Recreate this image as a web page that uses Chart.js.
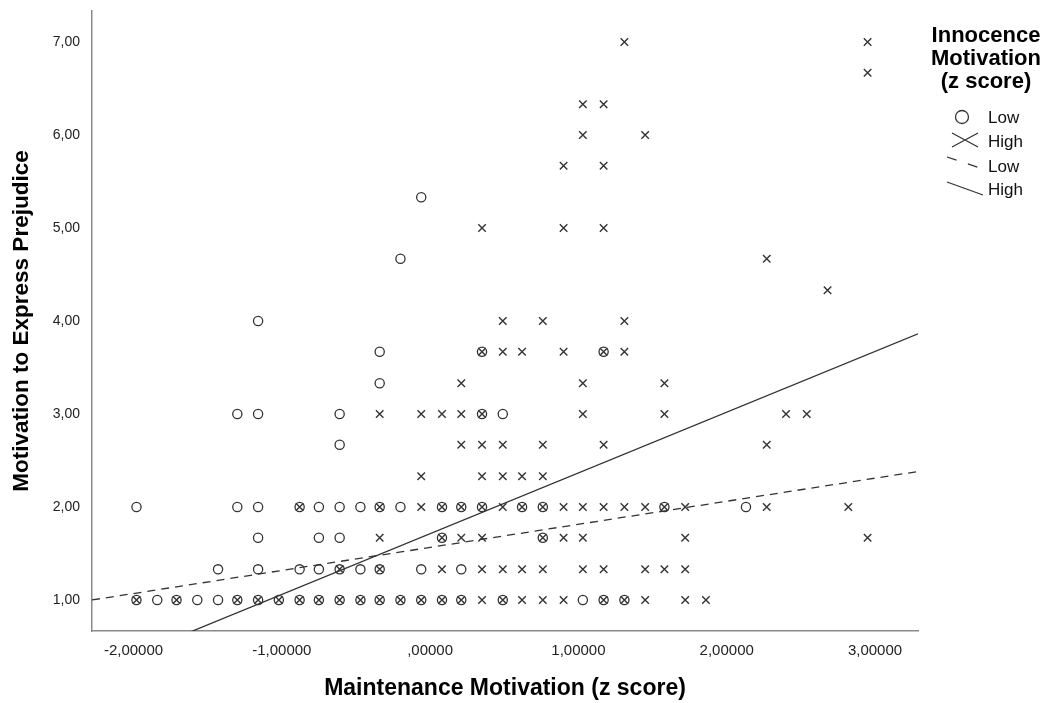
<!DOCTYPE html>
<html>
<head>
<meta charset="utf-8">
<script src="https://cdn.jsdelivr.net/npm/chart.js@4.4.1/dist/chart.umd.min.js"></script>
<style>
  html, body { margin: 0; padding: 0; background: #fff; }
  #wrap { width: 1047px; height: 703px; }
</style>
</head>
<body>
<div id="wrap"><canvas id="chart" width="1047" height="703"></canvas></div>
<script>
// axis ticks and ranges
const xTicks = [-2, -1, 0, 1, 2, 3];
const xTickLabels = ['-2,00000', '-1,00000', ',00000', '1,00000', '2,00000', '3,00000'];
const yTicks = [1, 2, 3, 4, 5, 6, 7];
const yTickLabels = ['1,00', '2,00', '3,00', '4,00', '5,00', '6,00', '7,00'];
const xRange = [-2.28, 3.29];
const yRange = [0.667, 7.333];

const legendTitle = ['Innocence', 'Motivation', '(z score)'];
const groupLabels = ['Low', 'High'];

// observed points, [maintenance z, prejudice], read row by row
const lowPoints = [
  [-1.98,1],[-1.84,1],[-1.71,1],[-1.57,1],[-1.43,1],[-1.30,1],[-1.16,1],[-1.02,1],[-0.88,1],[-0.75,1],[-0.61,1],
  [-0.47,1],[-0.34,1],[-0.20,1],[-0.06,1],[0.08,1],[0.21,1],[0.49,1],[1.03,1],[1.17,1],[1.31,1],
  [-1.43,1.33],[-1.16,1.33],[-0.88,1.33],[-0.75,1.33],[-0.61,1.33],[-0.47,1.33],[-0.34,1.33],[-0.06,1.33],[0.21,1.33],
  [-1.16,1.67],[-0.75,1.67],[-0.61,1.67],[0.08,1.67],[0.76,1.67],
  [-1.98,2],[-1.30,2],[-1.16,2],[-0.88,2],[-0.75,2],[-0.61,2],[-0.47,2],[-0.34,2],[-0.20,2],[0.08,2],[0.21,2],
  [0.35,2],[0.62,2],[0.76,2],[1.58,2],[2.13,2],
  [-0.61,2.67],
  [-1.30,3],[-1.16,3],[-0.61,3],[0.35,3],[0.49,3],
  [-0.34,3.33],
  [-0.34,3.67],[0.35,3.67],[1.17,3.67],
  [-1.16,4],
  [-0.20,4.67],
  [-0.06,5.33]
];
const highPoints = [
  [-1.98,1],[-1.71,1],[-1.30,1],[-1.16,1],[-1.02,1],[-0.88,1],[-0.75,1],[-0.61,1],[-0.47,1],[-0.34,1],[-0.20,1],
  [-0.06,1],[0.08,1],[0.21,1],[0.35,1],[0.49,1],[0.62,1],[0.76,1],[0.90,1],[1.17,1],[1.31,1],[1.45,1],[1.72,1],[1.86,1],
  [-0.61,1.33],[-0.34,1.33],[0.08,1.33],[0.35,1.33],[0.49,1.33],[0.62,1.33],[0.76,1.33],[1.03,1.33],[1.17,1.33],
  [1.45,1.33],[1.58,1.33],[1.72,1.33],
  [-0.34,1.67],[0.08,1.67],[0.21,1.67],[0.35,1.67],[0.76,1.67],[0.90,1.67],[1.03,1.67],[1.72,1.67],[2.95,1.67],
  [-0.88,2],[-0.34,2],[-0.06,2],[0.08,2],[0.21,2],[0.35,2],[0.49,2],[0.62,2],[0.76,2],[0.90,2],[1.03,2],[1.17,2],
  [1.31,2],[1.45,2],[1.58,2],[1.72,2],[2.27,2],[2.82,2],
  [-0.06,2.33],[0.35,2.33],[0.49,2.33],[0.62,2.33],[0.76,2.33],
  [0.21,2.67],[0.35,2.67],[0.49,2.67],[0.76,2.67],[1.17,2.67],[2.27,2.67],
  [-0.34,3],[-0.06,3],[0.08,3],[0.21,3],[0.35,3],[1.03,3],[1.58,3],[2.40,3],[2.54,3],
  [0.21,3.33],[1.03,3.33],[1.58,3.33],
  [0.35,3.67],[0.49,3.67],[0.62,3.67],[0.90,3.67],[1.17,3.67],[1.31,3.67],
  [0.49,4],[0.76,4],[1.31,4],
  [2.68,4.33],
  [2.27,4.67],
  [0.35,5],[0.90,5],[1.17,5],
  [0.90,5.67],[1.17,5.67],
  [1.03,6],[1.45,6],
  [1.03,6.33],[1.17,6.33],
  [2.95,6.67],
  [1.31,7],[2.95,7]
];

// fit lines per group: [intercept, slope]
const lowFit = [1.566, 0.248];
const highFit = [1.713, 0.653];

const FONT = "'Liberation Sans', Arial, sans-serif";
const ink = '#333333';

const toXY = pts => pts.map(p => ({ x: p[0], y: p[1] }));
const fitLine = f => xRange.map(x => ({ x: x, y: f[0] + f[1] * x }));

// legend on the right, drawn by hand since it mixes markers and slanted lines
const sideLegend = {
  id: 'sideLegend',
  afterDraw(chart) {
    const c = chart.ctx;
    c.save();
    c.fillStyle = '#000';
    c.textAlign = 'center';
    c.textBaseline = 'middle';
    c.font = 'bold 22px ' + FONT;
    legendTitle.forEach((t, i) => c.fillText(t, 986, 36 + i * 23));

    c.strokeStyle = ink;
    c.lineWidth = 1.3;
    // circle
    c.beginPath();
    c.arc(962, 117, 6.5, 0, Math.PI * 2);
    c.stroke();
    // wide cross
    c.beginPath();
    c.moveTo(952, 133); c.lineTo(978, 147);
    c.moveTo(952, 147); c.lineTo(978, 133);
    c.stroke();
    // dashed
    c.setLineDash([10, 12]);
    c.beginPath();
    c.moveTo(947, 157); c.lineTo(983, 169);
    c.stroke();
    c.setLineDash([]);
    // solid
    c.beginPath();
    c.moveTo(947, 182); c.lineTo(983, 195);
    c.stroke();

    c.textAlign = 'left';
    c.fillStyle = '#111';
    c.font = '17px ' + FONT;
    [groupLabels[0], groupLabels[1], groupLabels[0], groupLabels[1]]
      .forEach((t, i) => c.fillText(t, 988, [118, 142, 167, 190][i]));
    c.restore();
  }
};

new Chart(document.getElementById('chart'), {
  type: 'scatter',
  data: {
    datasets: [
      {
        label: groupLabels[0],
        data: toXY(lowPoints),
        pointStyle: 'circle',
        pointRadius: 4.6,
        pointBorderWidth: 1.3,
        borderColor: ink,
        backgroundColor: 'rgba(0,0,0,0)'
      },
      {
        label: groupLabels[1],
        data: toXY(highPoints),
        pointStyle: 'crossRot',
        pointRadius: 5.3,
        pointBorderWidth: 1.4,
        borderColor: ink,
        backgroundColor: ink
      },
      {
        label: groupLabels[0] + ' fit',
        data: fitLine(lowFit),
        showLine: true,
        pointRadius: 0,
        borderDash: [8, 6],
        borderWidth: 1.3,
        borderColor: ink
      },
      {
        label: groupLabels[1] + ' fit',
        data: fitLine(highFit),
        showLine: true,
        pointRadius: 0,
        borderWidth: 1.3,
        borderColor: ink
      }
    ]
  },
  options: {
    responsive: false,
    animation: false,
    events: [],
    layout: { padding: { top: 11, right: 129, left: 0, bottom: 0 } },
    plugins: { legend: { display: false }, tooltip: { enabled: false } },
    scales: {
      x: {
        type: 'linear',
        min: xRange[0],
        max: xRange[1],
        grid: { display: false, drawTicks: false },
        border: { display: true, color: '#8a8a8a', width: 1.5 },
        afterBuildTicks: s => { s.ticks = xTicks.map(v => ({ value: v })); },
        afterFit: s => { s.height = 72; s.paddingLeft = 0; s.paddingRight = 0; },
        ticks: {
          color: '#222',
          padding: 11,
          font: { family: FONT, size: 15 },
          maxRotation: 0,
          callback: v => xTickLabels[xTicks.indexOf(v)]
        },
        title: {
          display: true,
          text: 'Maintenance Motivation (z score)',
          color: '#000',
          font: { family: FONT, size: 23, weight: 'bold' },
          padding: { top: 0, bottom: 1 }
        }
      },
      y: {
        type: 'linear',
        min: yRange[0],
        max: yRange[1],
        grid: { display: false, drawTicks: false },
        border: { display: true, color: '#8a8a8a', width: 1.5 },
        afterBuildTicks: s => { s.ticks = yTicks.map(v => ({ value: v })); },
        afterFit: s => { s.width = 92; s.paddingTop = 0; s.paddingBottom = 0; },
        ticks: {
          color: '#222',
          padding: 12,
          font: { family: FONT, size: 14 },
          callback: v => yTickLabels[yTicks.indexOf(v)]
        },
        title: {
          display: true,
          text: 'Motivation to Express Prejudice',
          color: '#000',
          font: { family: FONT, size: 22.5, weight: 'bold' },
          padding: { top: 8, bottom: 0 }
        }
      }
    }
  },
  plugins: [sideLegend]
});
</script>
</body>
</html>
